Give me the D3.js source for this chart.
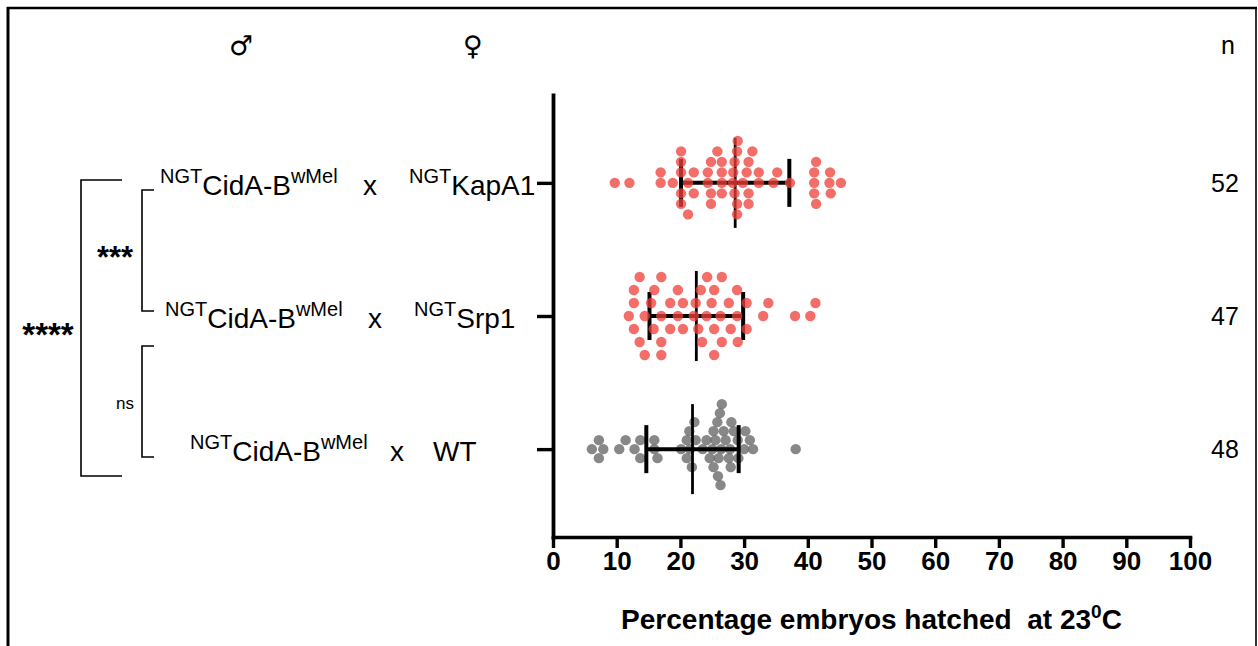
<!DOCTYPE html>
<html>
<head>
<meta charset="utf-8">
<script src="https://cdn.jsdelivr.net/npm/d3@7"></script>
<style>
  body { margin: 0; background: #fff; }
  svg { display: block; }
  text { font-family: "Liberation Sans", Arial, Helvetica, sans-serif; fill: #000; }
</style>
</head>
<body>
<script>
// ---- data ----------------------------------------------------------------
const crosses = ["KapA1", "Srp1", "WT"];
const maleLabels = ["CidA-B", "CidA-B", "CidA-B"];
const femaleLabels = ["KapA1", "Srp1", "WT"];
const femalePrefixes = ["NGT", "NGT", ""];
const sampleSizes = [52, 47, 48];

// percentage of embryos hatched per cross (one value per replicate)
const kapA1Values = [
  9.7, 12.0, 16.9, 16.9, 18.8, 20.1, 20.1, 20.1, 20.1, 20.1, 21.2, 21.2,
  22.1, 22.1, 24.3, 24.8, 24.3, 24.8, 24.8, 25.8, 26.5, 26.5, 26.5, 26.5,
  28.2, 28.5, 28.5, 28.9, 28.9, 28.9, 28.3, 29.0, 29.8, 30.4, 30.7, 30.7,
  30.7, 31.3, 32.3, 32.3, 34.6, 35.2, 37.2, 41.0, 41.0, 41.3, 41.3, 41.0,
  43.4, 43.5, 43.6, 45.2
];
const srp1Values = [
  12.7, 17.0, 19.6, 26.5,
  13.6, 15.9, 18.4, 20.4, 23.2, 25.3, 27.9, 30.4,
  11.9, 14.4, 17.0, 22.1, 24.1, 26.5, 28.9, 33.8,
  13.6, 15.4, 22.8, 24.9, 29.0, 33.0, 38.0, 41.2,
  12.7, 15.8, 18.4, 22.4, 24.2, 26.3, 28.9, 40.4,
  14.4, 17.0, 20.4, 23.4, 25.3, 30.4,
  12.7, 17.0, 19.6, 25.3, 27.6
];
const wtValues = [
  7.2, 7.2, 6.1, 7.9, 10.4, 11.4, 12.8, 13.7, 13.7, 15.9, 15.9, 16.4,
  21.0, 21.0, 20.1, 21.5, 21.8, 22.2, 22.4, 21.4, 23.5, 24.1, 24.6, 25.2,
  25.2, 25.0, 25.5, 25.9, 26.4, 27.1, 27.8, 26.0, 26.3, 26.8, 26.5, 26.2,
  25.8, 27.9, 27.6, 28.0, 28.4, 29.1, 29.0, 30.2, 30.9, 31.4, 30.0, 38.1
];
const groupValues = [kapA1Values, srp1Values, wtValues];

// mean and SD shown by the error bars
const means = [28.6, 22.5, 21.9];
const sds = [8.5, 7.35, 7.25];

const xTicks = [0, 10, 20, 30, 40, 50, 60, 70, 80, 90, 100];
const sigLabels = ["****", "***", "ns"];

// ---- drawing -------------------------------------------------------------
const W = 1258, H = 646;
const dotColors = ["#ef4038", "#ef4038", "#6e6e6e"];
const dotOpacity = [0.76, 0.76, 0.82];
const rowStep = [10.5, 13, 9];        // vertical spacing of the swarm rows
const dotR = 5.2;

const svg = d3.select("body").append("svg")
  .attr("width", W).attr("height", H);

// figure frame (open at the bottom)
svg.append("line").attr("x1", 8).attr("x2", 8).attr("y1", 7).attr("y2", H)
  .attr("stroke", "#000").attr("stroke-width", 3);
svg.append("line").attr("x1", 7).attr("x2", 1257).attr("y1", 8).attr("y2", 8)
  .attr("stroke", "#000").attr("stroke-width", 2.5);
svg.append("line").attr("x1", 1256).attr("x2", 1256).attr("y1", 7).attr("y2", H)
  .attr("stroke", "#000").attr("stroke-width", 1.6);

const x = d3.scaleLinear().domain([0, 100]).range([553, 1190]);
const y = d3.scalePoint().domain(crosses).range([95, 537]).padding(0.66);

// x axis
const gx = svg.append("g").attr("transform", "translate(0,537)")
  .call(d3.axisBottom(x).tickValues(xTicks).tickSize(11).tickSizeOuter(0).tickPadding(4));
gx.select(".domain").attr("stroke-width", 3.6).attr("stroke-linecap", "square");
gx.selectAll(".tick line").attr("stroke-width", 3.4);
gx.selectAll(".tick text")
  .attr("font-size", 26).attr("font-weight", "bold")
  .attr("font-family", "'Liberation Sans', Arial, sans-serif").attr("fill", "#000");

// y axis (category ticks only)
const gy = svg.append("g").attr("transform", "translate(553,0)")
  .call(d3.axisLeft(y).tickSize(16).tickSizeOuter(0).tickFormat(""));
gy.select(".domain").attr("stroke-width", 3.8).attr("stroke-linecap", "square");
gy.selectAll(".tick line").attr("stroke-width", 3.4);

// axis title
const title = svg.append("text")
  .attr("x", x(50)).attr("y", 629).attr("text-anchor", "middle")
  .attr("font-size", 28).attr("font-weight", "bold");
title.append("tspan").text("Percentage embryos hatched\u00a0\u00a0at 23");
title.append("tspan").attr("font-size", 19).attr("dy", -11).text("0");
title.append("tspan").attr("dy", 11).text("C");

// beeswarm layout: points are placed on rows spaced `step` apart,
// taking the nearest free row to the category line
function swarm(values, step, minDist) {
  const pts = values.map(v => ({ v, px: x(v) })).sort((a, b) => a.px - b.px);
  const placed = [];
  for (const p of pts) {
    for (let k = 0; k < 40; k++) {
      const off = k === 0 ? 0 : (k % 2 ? -1 : 1) * Math.ceil(k / 2) * step;
      const ok = placed.every(q =>
        (q.px - p.px) ** 2 + (q.off - off) ** 2 >= minDist * minDist);
      if (ok) { p.off = off; break; }
    }
    placed.push(p);
  }
  return pts;
}

function drawBars(g, i) {
  const cy = y(crosses[i]);
  const lo = x(means[i] - sds[i]), hi = x(means[i] + sds[i]);
  g.append("line").attr("x1", lo).attr("x2", hi).attr("y1", cy).attr("y2", cy)
    .attr("stroke", "#000").attr("stroke-width", 4);
  [lo, hi].forEach(cx => g.append("line")
    .attr("x1", cx).attr("x2", cx).attr("y1", cy - 24).attr("y2", cy + 24)
    .attr("stroke", "#000").attr("stroke-width", 4));
  g.append("line").attr("x1", x(means[i])).attr("x2", x(means[i]))
    .attr("y1", cy - 45).attr("y2", cy + 45)
    .attr("stroke", "#000").attr("stroke-width", 2.8);
}

function drawDots(g, i) {
  const cy = y(crosses[i]);
  const pts = swarm(groupValues[i], rowStep[i], rowStep[i] * 0.95);
  g.selectAll("circle").data(pts).join("circle")
    .attr("cx", d => d.px).attr("cy", d => cy + d.off).attr("r", dotR)
    .attr("fill", dotColors[i]).attr("fill-opacity", dotOpacity[i]);
}

crosses.forEach((c, i) => {
  const g = svg.append("g");
  if (i < 2) { drawBars(g, i); drawDots(g.append("g"), i); }
  else { drawDots(g.append("g"), i); drawBars(g, i); }
});

// cross labels
const labelX = [160, 165, 190];
const crossX = [370, 375, 397];
const femaleX = [409, 414, 433];
const mainSize = 28, supSize = 20, supShift = 12;

crosses.forEach((c, i) => {
  const base = y(c) + 12;
  const m = svg.append("text").attr("x", labelX[i]).attr("y", base).attr("font-size", mainSize);
  m.append("tspan").attr("font-size", supSize).attr("dy", -supShift).text("NGT");
  m.append("tspan").attr("dy", supShift).text(maleLabels[i]);
  m.append("tspan").attr("font-size", supSize).attr("dy", -supShift).text("wMel");

  svg.append("text").attr("x", crossX[i]).attr("y", base).attr("text-anchor", "middle")
    .attr("font-size", mainSize).text("x");

  const f = svg.append("text").attr("x", femaleX[i]).attr("y", base).attr("font-size", mainSize);
  if (femalePrefixes[i]) {
    f.append("tspan").attr("font-size", supSize).attr("dy", -supShift).text(femalePrefixes[i]);
    f.append("tspan").attr("dy", supShift).text(femaleLabels[i]);
  } else {
    f.text(femaleLabels[i]);
  }

  svg.append("text").attr("x", 1225).attr("y", y(c) + 9).attr("text-anchor", "middle")
    .attr("font-size", 25).text(sampleSizes[i]);
});

svg.append("text").attr("x", 1228).attr("y", 54).attr("text-anchor", "middle")
  .attr("font-size", 25).text("n");
svg.append("text").attr("x", 241).attr("y", 55).attr("text-anchor", "middle")
  .attr("font-size", 27).style("font-family", "'DejaVu Sans', sans-serif").text("\u2642");
svg.append("text").attr("x", 473).attr("y", 55).attr("text-anchor", "middle")
  .attr("font-size", 27).style("font-family", "'DejaVu Sans', sans-serif").text("\u2640");

// significance brackets
const bracket = (xv, y1, y2, xEnd) => svg.append("path")
  .attr("d", `M${xEnd},${y1}H${xv}V${y2}H${xEnd}`)
  .attr("fill", "none").attr("stroke", "#000").attr("stroke-width", 1.6);
bracket(81, 180, 476, 122);
bracket(142, 190, 311, 154);
bracket(142, 346, 457, 154);

svg.append("text").attr("x", 48).attr("y", 346).attr("text-anchor", "middle")
  .attr("font-size", 33).attr("font-weight", "bold").text(sigLabels[0]);
svg.append("text").attr("x", 115).attr("y", 268).attr("text-anchor", "middle")
  .attr("font-size", 31).attr("font-weight", "bold").text(sigLabels[1]);
svg.append("text").attr("x", 125).attr("y", 409).attr("text-anchor", "middle")
  .attr("font-size", 17).text(sigLabels[2]);
</script>
</body>
</html>
